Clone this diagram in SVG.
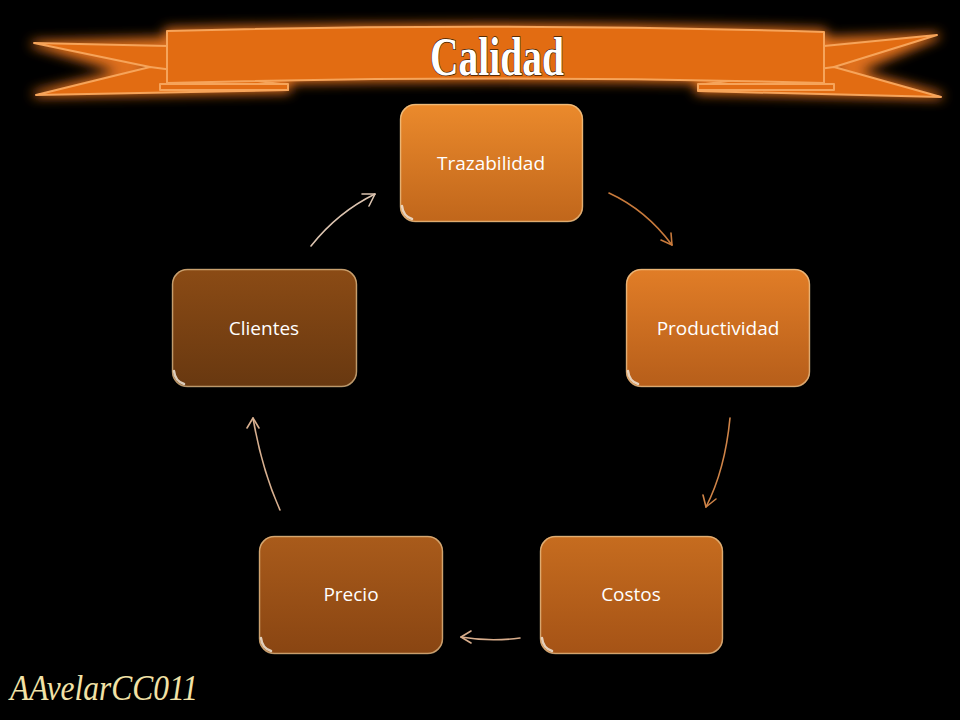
<svg xmlns="http://www.w3.org/2000/svg" width="960" height="720" viewBox="0 0 960 720">
<style>
.lbl{font-family:"Open Sans","Noto Sans",sans-serif;font-size:19px;font-weight:500;fill:#ffffff;text-anchor:middle}
.edge{fill:none;stroke-width:1.6;stroke-linecap:round}
.gl{fill:none;stroke-width:1.6;stroke-linecap:round;stroke-linejoin:round}
.rim{fill:none;stroke:#f3d9a8;stroke-opacity:0.6;stroke-width:1.5}
.hl{fill:none;stroke:#f0e6d8;stroke-width:2.5;stroke-opacity:0.85;stroke-linecap:round}
.ban{fill:#e26c12;stroke:#f6a45a;stroke-width:2;stroke-linejoin:round}
</style>
<defs>
<linearGradient id="g1" x1="0" y1="0" x2="0" y2="1"><stop offset="0" stop-color="#eb8a2c"/><stop offset="1" stop-color="#c0661b"/></linearGradient>
<linearGradient id="g2" x1="0" y1="0" x2="0" y2="1"><stop offset="0" stop-color="#e17d27"/><stop offset="1" stop-color="#b65e1a"/></linearGradient>
<linearGradient id="g3" x1="0" y1="0" x2="0" y2="1"><stop offset="0" stop-color="#c66c1f"/><stop offset="1" stop-color="#a55316"/></linearGradient>
<linearGradient id="g4" x1="0" y1="0" x2="0" y2="1"><stop offset="0" stop-color="#a95b1b"/><stop offset="1" stop-color="#894512"/></linearGradient>
<linearGradient id="g5" x1="0" y1="0" x2="0" y2="1"><stop offset="0" stop-color="#8b4b15"/><stop offset="1" stop-color="#683810"/></linearGradient>
<filter id="glow" x="-10%" y="-60%" width="120%" height="220%"><feGaussianBlur stdDeviation="6"/></filter>
</defs>
<rect width="960" height="720" fill="#000000"/>
<g id="banner">
<g filter="url(#glow)" fill="#e0701a" stroke="#e0701a" stroke-width="6" stroke-linejoin="round">
<path d="M34,44 L168,40 L150,66 L36,94 L288,90 L288,84 L168,84 Z"/>
<path d="M937,36 L824,40 L834,67 L940,96 L698,91 L698,84 L824,84 Z"/>
<path d="M167,31 Q495,22 824,32 L824,83 Q495,74 167,83 Z"/>
</g>
<path class="ban" d="M34,43 L168,46 L168,80 L150,67 Z"/>
<path class="ban" d="M36,95 L150,67 L288,85 L288,90 Z"/>
<path class="ban" d="M937,35 L824,46 L824,80 L834,67 Z"/>
<path class="ban" d="M834,67 L941,97 L698,91 L698,85 Z"/>
<path class="ban" d="M160,84 L288,84 L288,90 L160,90 Z"/>
<path class="ban" d="M698,84 L834,84 L834,90 L698,90 Z"/>
<path class="ban" d="M167,31 Q495,22 824,32 L824,83 Q495,74 167,83 Z"/>
<text x="497" y="75" font-family="'Liberation Serif',serif" font-weight="bold" font-size="54" fill="#ffffff" stroke="#3a1a00" stroke-width="1.4" paint-order="stroke" text-anchor="middle" textLength="134" lengthAdjust="spacingAndGlyphs">Calidad</text>
</g>
<g id="connectors">
<path class="edge" stroke="#c87a3c" d="M609,193 Q646,210 672,245"/>
<path class="gl" stroke="#c87a3c" d="M661,240 L672,245 L671,233"/>
<path class="edge" stroke="#cf8448" d="M730,418 Q725,470 706,507"/>
<path class="gl" stroke="#cf8448" d="M703,495 L706,507 L716,499"/>
<path class="edge" stroke="#d8ad8c" d="M520,638 Q490,642 461,637"/>
<path class="gl" stroke="#d8ad8c" d="M471,631 L461,637 L471,643"/>
<path class="edge" stroke="#d8b090" d="M280,510 Q262,470 253,418"/>
<path class="gl" stroke="#d8b090" d="M247,428 L253,418 L259,428"/>
<path class="edge" stroke="#dcc4b0" d="M311,246 Q338,212 375,194"/>
<path class="gl" stroke="#dcc4b0" d="M362,194 L375,194 L369,206"/>
</g>
<g id="n1">
<rect x="400" y="104" width="183" height="118" rx="15" fill="url(#g1)"/>
<rect class="rim" x="400.5" y="104.5" width="182" height="117" rx="15"/>
<path class="hl" d="M402,206 Q403,216 412,219"/>
<text class="lbl" x="491" y="170">Trazabilidad</text>
</g>
<g id="n2">
<rect x="626" y="269" width="184" height="118" rx="15" fill="url(#g2)"/>
<rect class="rim" x="626.5" y="269.5" width="183" height="117" rx="15"/>
<path class="hl" d="M628,371 Q629,381 638,384"/>
<text class="lbl" x="718" y="335">Productividad</text>
</g>
<g id="n3">
<rect x="540" y="536" width="183" height="118" rx="15" fill="url(#g3)"/>
<rect class="rim" x="540.5" y="536.5" width="182" height="117" rx="15"/>
<path class="hl" d="M542,638 Q543,648 552,651"/>
<text class="lbl" x="631" y="601">Costos</text>
</g>
<g id="n4">
<rect x="259" y="536" width="184" height="118" rx="15" fill="url(#g4)"/>
<rect class="rim" x="259.5" y="536.5" width="183" height="117" rx="15"/>
<path class="hl" d="M261,638 Q262,648 271,651"/>
<text class="lbl" x="351" y="601">Precio</text>
</g>
<g id="n5">
<rect x="172" y="269" width="185" height="118" rx="15" fill="url(#g5)"/>
<rect class="rim" x="172.5" y="269.5" width="184" height="117" rx="15"/>
<path class="hl" d="M174,371 Q175,381 184,384"/>
<text class="lbl" x="264" y="335">Clientes</text>
</g>
<text x="10" y="700" font-family="'Liberation Serif',serif" font-style="italic" font-size="36" fill="#f2e2a6" textLength="188" lengthAdjust="spacingAndGlyphs">AAvelarCC011</text>
</svg>
